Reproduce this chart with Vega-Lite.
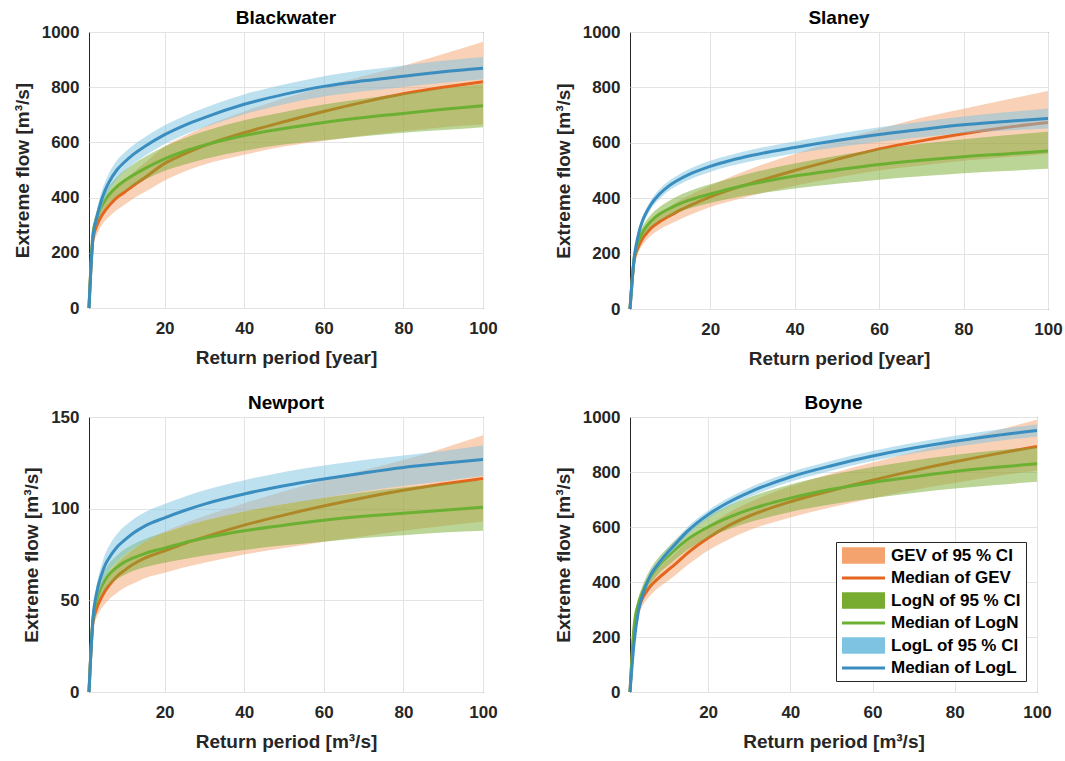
{
"$schema": "https://vega.github.io/schema/vega-lite/v6.json",
"background": "white",
"padding": {"left": 12, "top": 8, "right": 2, "bottom": 2},
"datasets": {"d": [
{"p":"Blackwater","x":1,"gl":0,"gm":0,"gh":0,"nl":0,"nm":0,"nh":0,"ll":0,"lm":0,"lh":0},
{"p":"Blackwater","x":2,"gl":225,"gm":250,"gh":280,"nl":255,"nm":270,"nh":285,"ll":240,"lm":255,"lh":270},
{"p":"Blackwater","x":3,"gl":265,"gm":300,"gh":340,"nl":305,"nm":330,"nh":355,"ll":305,"lm":330,"lh":355},
{"p":"Blackwater","x":4,"gl":295,"gm":330,"gh":375,"nl":338,"nm":365,"nh":392,"ll":355,"lm":385,"lh":415},
{"p":"Blackwater","x":5,"gl":315,"gm":352,"gh":395,"nl":360,"nm":390,"nh":420,"ll":395,"lm":425,"lh":455},
{"p":"Blackwater","x":6,"gl":330,"gm":370,"gh":410,"nl":378,"nm":410,"nh":442,"ll":423,"lm":455,"lh":487},
{"p":"Blackwater","x":8,"gl":355,"gm":400,"gh":440,"nl":405,"nm":440,"nh":475,"ll":466,"lm":500,"lh":534},
{"p":"Blackwater","x":10,"gl":375,"gm":420,"gh":465,"nl":425,"nm":462,"nh":500,"ll":496,"lm":530,"lh":564},
{"p":"Blackwater","x":12,"gl":395,"gm":442,"gh":490,"nl":442,"nm":480,"nh":520,"ll":521,"lm":555,"lh":589},
{"p":"Blackwater","x":15,"gl":420,"gm":472,"gh":525,"nl":465,"nm":505,"nh":547,"ll":551,"lm":585,"lh":619},
{"p":"Blackwater","x":20,"gl":462,"gm":524,"gh":585,"nl":497,"nm":540,"nh":585,"ll":594,"lm":628,"lh":662},
{"p":"Blackwater","x":25,"gl":495,"gm":558,"gh":623,"nl":520,"nm":568,"nh":615,"ll":628,"lm":662,"lh":696},
{"p":"Blackwater","x":30,"gl":520,"gm":588,"gh":657,"nl":540,"nm":590,"nh":640,"ll":655,"lm":690,"lh":725},
{"p":"Blackwater","x":40,"gl":555,"gm":635,"gh":712,"nl":570,"nm":625,"nh":680,"ll":702,"lm":738,"lh":774},
{"p":"Blackwater","x":50,"gl":585,"gm":675,"gh":760,"nl":592,"nm":650,"nh":710,"ll":738,"lm":774,"lh":810},
{"p":"Blackwater","x":60,"gl":605,"gm":712,"gh":802,"nl":608,"nm":672,"nh":737,"ll":766,"lm":803,"lh":840},
{"p":"Blackwater","x":70,"gl":625,"gm":746,"gh":841,"nl":622,"nm":690,"nh":758,"ll":785,"lm":823,"lh":861},
{"p":"Blackwater","x":80,"gl":640,"gm":776,"gh":878,"nl":635,"nm":705,"nh":777,"ll":801,"lm":840,"lh":879},
{"p":"Blackwater","x":90,"gl":655,"gm":800,"gh":920,"nl":645,"nm":720,"nh":795,"ll":816,"lm":856,"lh":896},
{"p":"Blackwater","x":100,"gl":665,"gm":820,"gh":965,"nl":655,"nm":733,"nh":812,"ll":829,"lm":869,"lh":909},
{"p":"Slaney","x":1,"gl":0,"gm":0,"gh":0,"nl":0,"nm":0,"nh":0,"ll":0,"lm":0,"lh":0},
{"p":"Slaney","x":2,"gl":160,"gm":175,"gh":190,"nl":170,"nm":185,"nh":200,"ll":177,"lm":185,"lh":193},
{"p":"Slaney","x":3,"gl":205,"gm":225,"gh":245,"nl":228,"nm":245,"nh":262,"ll":258,"lm":270,"lh":282},
{"p":"Slaney","x":4,"gl":232,"gm":255,"gh":280,"nl":258,"nm":278,"nh":298,"ll":306,"lm":320,"lh":334},
{"p":"Slaney","x":5,"gl":250,"gm":275,"gh":302,"nl":278,"nm":300,"nh":322,"ll":337,"lm":352,"lh":367},
{"p":"Slaney","x":6,"gl":265,"gm":292,"gh":320,"nl":295,"nm":318,"nh":341,"ll":362,"lm":378,"lh":394},
{"p":"Slaney","x":8,"gl":287,"gm":315,"gh":345,"nl":318,"nm":343,"nh":368,"ll":398,"lm":415,"lh":432},
{"p":"Slaney","x":10,"gl":303,"gm":333,"gh":365,"nl":333,"nm":360,"nh":388,"ll":424,"lm":442,"lh":460},
{"p":"Slaney","x":12,"gl":318,"gm":350,"gh":385,"nl":347,"nm":375,"nh":405,"ll":444,"lm":462,"lh":480},
{"p":"Slaney","x":15,"gl":338,"gm":372,"gh":410,"nl":363,"nm":393,"nh":425,"ll":467,"lm":486,"lh":505},
{"p":"Slaney","x":20,"gl":368,"gm":405,"gh":445,"nl":383,"nm":415,"nh":450,"ll":495,"lm":515,"lh":535},
{"p":"Slaney","x":25,"gl":390,"gm":432,"gh":478,"nl":400,"nm":435,"nh":472,"ll":517,"lm":537,"lh":557},
{"p":"Slaney","x":30,"gl":410,"gm":455,"gh":508,"nl":413,"nm":452,"nh":492,"ll":534,"lm":555,"lh":576},
{"p":"Slaney","x":40,"gl":445,"gm":500,"gh":560,"nl":435,"nm":480,"nh":525,"ll":561,"lm":583,"lh":605},
{"p":"Slaney","x":50,"gl":475,"gm":540,"gh":608,"nl":452,"nm":502,"nh":553,"ll":584,"lm":608,"lh":632},
{"p":"Slaney","x":60,"gl":500,"gm":578,"gh":650,"nl":467,"nm":522,"nh":578,"ll":604,"lm":630,"lh":656},
{"p":"Slaney","x":70,"gl":518,"gm":607,"gh":690,"nl":479,"nm":537,"nh":597,"ll":620,"lm":648,"lh":676},
{"p":"Slaney","x":80,"gl":535,"gm":633,"gh":723,"nl":490,"nm":550,"nh":613,"ll":635,"lm":665,"lh":695},
{"p":"Slaney","x":90,"gl":548,"gm":655,"gh":755,"nl":498,"nm":560,"nh":627,"ll":644,"lm":677,"lh":710},
{"p":"Slaney","x":100,"gl":560,"gm":673,"gh":787,"nl":506,"nm":570,"nh":640,"ll":652,"lm":688,"lh":724},
{"p":"Newport","x":1,"gl":0,"gm":0,"gh":0,"nl":0,"nm":0,"nh":0,"ll":0,"lm":0,"lh":0},
{"p":"Newport","x":2,"gl":34,"gm":38,"gh":42,"nl":37,"nm":40,"nh":43,"ll":38,"lm":40,"lh":42},
{"p":"Newport","x":3,"gl":41,"gm":46,"gh":51,"nl":46.5,"nm":51,"nh":55.5,"ll":50,"lm":55,"lh":59},
{"p":"Newport","x":4,"gl":45,"gm":51,"gh":57,"nl":52,"nm":57,"nh":62,"ll":57,"lm":63,"lh":68},
{"p":"Newport","x":5,"gl":48,"gm":55,"gh":61,"nl":55.5,"nm":61,"nh":66.5,"ll":62,"lm":69,"lh":75},
{"p":"Newport","x":6,"gl":50.5,"gm":58,"gh":64.5,"nl":58,"nm":64,"nh":70,"ll":66,"lm":73,"lh":79.5},
{"p":"Newport","x":8,"gl":54,"gm":63,"gh":70,"nl":61.5,"nm":68,"nh":74.5,"ll":71,"lm":79,"lh":86},
{"p":"Newport","x":10,"gl":57,"gm":66.5,"gh":74,"nl":64,"nm":71,"nh":78,"ll":75,"lm":83,"lh":90.5},
{"p":"Newport","x":12,"gl":59,"gm":69.5,"gh":77.5,"nl":66,"nm":73,"nh":80.5,"ll":78,"lm":86.5,"lh":94},
{"p":"Newport","x":15,"gl":62,"gm":73,"gh":82,"nl":68,"nm":75.5,"nh":83.5,"ll":82,"lm":90.5,"lh":98},
{"p":"Newport","x":20,"gl":65,"gm":77,"gh":87.5,"nl":70.5,"nm":78.5,"nh":87,"ll":87,"lm":95,"lh":102.5},
{"p":"Newport","x":25,"gl":68,"gm":81,"gh":92,"nl":72.5,"nm":81.5,"nh":90.5,"ll":90.5,"lm":99,"lh":106.5},
{"p":"Newport","x":30,"gl":70.5,"gm":84.5,"gh":96,"nl":74.5,"nm":84,"nh":93.5,"ll":93.5,"lm":102.5,"lh":110},
{"p":"Newport","x":40,"gl":75,"gm":91,"gh":103,"nl":77.5,"nm":88,"nh":98.5,"ll":98.5,"lm":108,"lh":115.5},
{"p":"Newport","x":50,"gl":78.5,"gm":96.5,"gh":109.5,"nl":80,"nm":91,"nh":102.5,"ll":102.5,"lm":112.5,"lh":120},
{"p":"Newport","x":60,"gl":82,"gm":101.5,"gh":115.5,"nl":82,"nm":93.7,"nh":106,"ll":106,"lm":116.2,"lh":123.5},
{"p":"Newport","x":70,"gl":85,"gm":106,"gh":121,"nl":84,"nm":95.8,"nh":109,"ll":109.5,"lm":119.5,"lh":126.5},
{"p":"Newport","x":80,"gl":88,"gm":110,"gh":126.5,"nl":85.5,"nm":97.5,"nh":111.5,"ll":112.5,"lm":122.5,"lh":129},
{"p":"Newport","x":90,"gl":90.5,"gm":113.5,"gh":133,"nl":87,"nm":99.2,"nh":113.5,"ll":115,"lm":124.8,"lh":131.5},
{"p":"Newport","x":100,"gl":93,"gm":116.5,"gh":140,"nl":88,"nm":100.8,"nh":115.5,"ll":118,"lm":126.8,"lh":134.5},
{"p":"Boyne","x":1,"gl":0,"gm":0,"gh":0,"nl":0,"nm":0,"nh":0,"ll":0,"lm":0,"lh":0},
{"p":"Boyne","x":2,"gl":205,"gm":220,"gh":235,"nl":225,"nm":240,"nh":255,"ll":170,"lm":180,"lh":190},
{"p":"Boyne","x":3,"gl":275,"gm":300,"gh":325,"nl":300,"nm":320,"nh":340,"ll":278,"lm":290,"lh":302},
{"p":"Boyne","x":4,"gl":312,"gm":340,"gh":368,"nl":340,"nm":362,"nh":385,"ll":338,"lm":350,"lh":362},
{"p":"Boyne","x":5,"gl":335,"gm":365,"gh":395,"nl":370,"nm":395,"nh":420,"ll":380,"lm":392,"lh":404},
{"p":"Boyne","x":6,"gl":352,"gm":385,"gh":418,"nl":393,"nm":420,"nh":448,"ll":412,"lm":425,"lh":438},
{"p":"Boyne","x":8,"gl":380,"gm":415,"gh":450,"nl":430,"nm":460,"nh":490,"ll":455,"lm":468,"lh":481},
{"p":"Boyne","x":10,"gl":402,"gm":440,"gh":478,"nl":457,"nm":490,"nh":523,"ll":492,"lm":505,"lh":518},
{"p":"Boyne","x":12,"gl":425,"gm":465,"gh":505,"nl":482,"nm":518,"nh":553,"ll":523,"lm":537,"lh":551},
{"p":"Boyne","x":15,"gl":462,"gm":505,"gh":548,"nl":517,"nm":555,"nh":592,"ll":570,"lm":585,"lh":600},
{"p":"Boyne","x":20,"gl":515,"gm":560,"gh":605,"nl":560,"nm":600,"nh":640,"ll":630,"lm":645,"lh":660},
{"p":"Boyne","x":25,"gl":555,"gm":605,"gh":652,"nl":592,"nm":635,"nh":678,"ll":674,"lm":690,"lh":706},
{"p":"Boyne","x":30,"gl":588,"gm":640,"gh":690,"nl":617,"nm":663,"nh":708,"ll":709,"lm":726,"lh":743},
{"p":"Boyne","x":40,"gl":635,"gm":692,"gh":748,"nl":655,"nm":705,"nh":755,"ll":765,"lm":782,"lh":799},
{"p":"Boyne","x":50,"gl":672,"gm":733,"gh":795,"nl":683,"nm":737,"nh":790,"ll":805,"lm":823,"lh":841},
{"p":"Boyne","x":60,"gl":705,"gm":770,"gh":835,"nl":705,"nm":762,"nh":818,"ll":840,"lm":858,"lh":876},
{"p":"Boyne","x":70,"gl":735,"gm":805,"gh":873,"nl":724,"nm":783,"nh":842,"ll":868,"lm":887,"lh":906},
{"p":"Boyne","x":80,"gl":760,"gm":837,"gh":910,"nl":740,"nm":802,"nh":862,"ll":892,"lm":912,"lh":932},
{"p":"Boyne","x":90,"gl":785,"gm":866,"gh":950,"nl":753,"nm":817,"nh":878,"ll":912,"lm":933,"lh":954},
{"p":"Boyne","x":100,"gl":805,"gm":893,"gh":990,"nl":765,"nm":830,"nh":892,"ll":929,"lm":951,"lh":973}
]},
"data": {"name": "d"},
"columns": 2,
"align": "each",
"bounds": "flush",
"spacing": {"row": 108, "column": 147},
"resolve": {"scale": {"color": "independent"}, "legend": {"color": "independent"}},
"concat": [
{
"title": "Blackwater", "width": 394, "height": 276,
"transform": [{"filter": "datum.p == 'Blackwater'"}],
"encoding": {"x": {"field": "x", "type": "quantitative", "scale": {"domain": [1, 100], "nice": false}, "axis": {"values": [20, 40, 60, 80, 100]}, "title": "Return period [year]"}},
"layer": [
{"mark": {"type": "area", "interpolate": "monotone", "color": "#F4A36F", "fillOpacity": 0.5}, "encoding": {"y": {"field": "gl", "type": "quantitative", "scale": {"domain": [0, 1000], "nice": false}, "axis": {"values": [0, 200, 400, 600, 800, 1000], "format": "d"}, "title": "Extreme flow [m³/s]"}, "y2": {"field": "gh"}}},
{"mark": {"type": "line", "interpolate": "monotone", "color": "#E5651F", "strokeWidth": 3}, "encoding": {"y": {"field": "gm", "type": "quantitative", "scale": {"domain": [0, 1000], "nice": false}, "axis": {"values": [0, 200, 400, 600, 800, 1000], "format": "d"}, "title": "Extreme flow [m³/s]"}}},
{"mark": {"type": "area", "interpolate": "monotone", "color": "#77AC30", "fillOpacity": 0.5}, "encoding": {"y": {"field": "nl", "type": "quantitative", "scale": {"domain": [0, 1000], "nice": false}, "axis": {"values": [0, 200, 400, 600, 800, 1000], "format": "d"}, "title": "Extreme flow [m³/s]"}, "y2": {"field": "nh"}}},
{"mark": {"type": "line", "interpolate": "monotone", "color": "#6CB033", "strokeWidth": 3}, "encoding": {"y": {"field": "nm", "type": "quantitative", "scale": {"domain": [0, 1000], "nice": false}, "axis": {"values": [0, 200, 400, 600, 800, 1000], "format": "d"}, "title": "Extreme flow [m³/s]"}}},
{"mark": {"type": "area", "interpolate": "monotone", "color": "#7EC4E2", "fillOpacity": 0.5}, "encoding": {"y": {"field": "ll", "type": "quantitative", "scale": {"domain": [0, 1000], "nice": false}, "axis": {"values": [0, 200, 400, 600, 800, 1000], "format": "d"}, "title": "Extreme flow [m³/s]"}, "y2": {"field": "lh"}}},
{"mark": {"type": "line", "interpolate": "monotone", "color": "#3A8DBF", "strokeWidth": 3}, "encoding": {"y": {"field": "lm", "type": "quantitative", "scale": {"domain": [0, 1000], "nice": false}, "axis": {"values": [0, 200, 400, 600, 800, 1000], "format": "d"}, "title": "Extreme flow [m³/s]"}}}
]
},
{
"title": "Slaney", "width": 418, "height": 277,
"transform": [{"filter": "datum.p == 'Slaney'"}],
"encoding": {"x": {"field": "x", "type": "quantitative", "scale": {"domain": [1, 100], "nice": false}, "axis": {"values": [20, 40, 60, 80, 100]}, "title": "Return period [year]"}},
"layer": [
{"mark": {"type": "area", "interpolate": "monotone", "color": "#F4A36F", "fillOpacity": 0.5}, "encoding": {"y": {"field": "gl", "type": "quantitative", "scale": {"domain": [0, 1000], "nice": false}, "axis": {"values": [0, 200, 400, 600, 800, 1000], "format": "d"}, "title": "Extreme flow [m³/s]"}, "y2": {"field": "gh"}}},
{"mark": {"type": "line", "interpolate": "monotone", "color": "#E5651F", "strokeWidth": 3}, "encoding": {"y": {"field": "gm", "type": "quantitative", "scale": {"domain": [0, 1000], "nice": false}, "axis": {"values": [0, 200, 400, 600, 800, 1000], "format": "d"}, "title": "Extreme flow [m³/s]"}}},
{"mark": {"type": "area", "interpolate": "monotone", "color": "#77AC30", "fillOpacity": 0.5}, "encoding": {"y": {"field": "nl", "type": "quantitative", "scale": {"domain": [0, 1000], "nice": false}, "axis": {"values": [0, 200, 400, 600, 800, 1000], "format": "d"}, "title": "Extreme flow [m³/s]"}, "y2": {"field": "nh"}}},
{"mark": {"type": "line", "interpolate": "monotone", "color": "#6CB033", "strokeWidth": 3}, "encoding": {"y": {"field": "nm", "type": "quantitative", "scale": {"domain": [0, 1000], "nice": false}, "axis": {"values": [0, 200, 400, 600, 800, 1000], "format": "d"}, "title": "Extreme flow [m³/s]"}}},
{"mark": {"type": "area", "interpolate": "monotone", "color": "#7EC4E2", "fillOpacity": 0.5}, "encoding": {"y": {"field": "ll", "type": "quantitative", "scale": {"domain": [0, 1000], "nice": false}, "axis": {"values": [0, 200, 400, 600, 800, 1000], "format": "d"}, "title": "Extreme flow [m³/s]"}, "y2": {"field": "lh"}}},
{"mark": {"type": "line", "interpolate": "monotone", "color": "#3A8DBF", "strokeWidth": 3}, "encoding": {"y": {"field": "lm", "type": "quantitative", "scale": {"domain": [0, 1000], "nice": false}, "axis": {"values": [0, 200, 400, 600, 800, 1000], "format": "d"}, "title": "Extreme flow [m³/s]"}}}
]
},
{
"title": "Newport", "width": 394, "height": 275,
"transform": [{"filter": "datum.p == 'Newport'"}],
"encoding": {"x": {"field": "x", "type": "quantitative", "scale": {"domain": [1, 100], "nice": false}, "axis": {"values": [20, 40, 60, 80, 100]}, "title": "Return period [m³/s]"}},
"layer": [
{"mark": {"type": "area", "interpolate": "monotone", "color": "#F4A36F", "fillOpacity": 0.5}, "encoding": {"y": {"field": "gl", "type": "quantitative", "scale": {"domain": [0, 150], "nice": false}, "axis": {"values": [0, 50, 100, 150], "format": "d"}, "title": "Extreme flow [m³/s]"}, "y2": {"field": "gh"}}},
{"mark": {"type": "line", "interpolate": "monotone", "color": "#E5651F", "strokeWidth": 3}, "encoding": {"y": {"field": "gm", "type": "quantitative", "scale": {"domain": [0, 150], "nice": false}, "axis": {"values": [0, 50, 100, 150], "format": "d"}, "title": "Extreme flow [m³/s]"}}},
{"mark": {"type": "area", "interpolate": "monotone", "color": "#77AC30", "fillOpacity": 0.5}, "encoding": {"y": {"field": "nl", "type": "quantitative", "scale": {"domain": [0, 150], "nice": false}, "axis": {"values": [0, 50, 100, 150], "format": "d"}, "title": "Extreme flow [m³/s]"}, "y2": {"field": "nh"}}},
{"mark": {"type": "line", "interpolate": "monotone", "color": "#6CB033", "strokeWidth": 3}, "encoding": {"y": {"field": "nm", "type": "quantitative", "scale": {"domain": [0, 150], "nice": false}, "axis": {"values": [0, 50, 100, 150], "format": "d"}, "title": "Extreme flow [m³/s]"}}},
{"mark": {"type": "area", "interpolate": "monotone", "color": "#7EC4E2", "fillOpacity": 0.5}, "encoding": {"y": {"field": "ll", "type": "quantitative", "scale": {"domain": [0, 150], "nice": false}, "axis": {"values": [0, 50, 100, 150], "format": "d"}, "title": "Extreme flow [m³/s]"}, "y2": {"field": "lh"}}},
{"mark": {"type": "line", "interpolate": "monotone", "color": "#3A8DBF", "strokeWidth": 3}, "encoding": {"y": {"field": "lm", "type": "quantitative", "scale": {"domain": [0, 150], "nice": false}, "axis": {"values": [0, 50, 100, 150], "format": "d"}, "title": "Extreme flow [m³/s]"}}}
]
},
{
"title": "Boyne", "width": 407, "height": 275,
"transform": [{"filter": "datum.p == 'Boyne'"}],
"encoding": {"x": {"field": "x", "type": "quantitative", "scale": {"domain": [1, 100], "nice": false}, "axis": {"values": [20, 40, 60, 80, 100]}, "title": "Return period [m³/s]"}},
"layer": [
{"mark": {"type": "area", "interpolate": "monotone", "fillOpacity": 0.5}, "encoding": {"y": {"field": "gl", "type": "quantitative", "scale": {"domain": [0, 1000], "nice": false}, "axis": {"values": [0, 200, 400, 600, 800, 1000], "format": "d"}, "title": "Extreme flow [m³/s]"}, "y2": {"field": "gh"},
 "color": {"datum": "GEV of 95 % CI", "type": "nominal", "scale": {"domain": ["GEV of 95 % CI", "Median of GEV", "LogN of 95 % CI", "Median of LogN", "LogL of 95 % CI", "Median of LogL"], "range": ["#F4A36F", "#E5651F", "#77AC30", "#6CB033", "#7EC4E2", "#3A8DBF"]},
  "legend": {"orient": "bottom-right", "offset": 11, "title": null, "padding": 5, "strokeColor": "#262626", "fillColor": "white", "cornerRadius": 0, "labelFontSize": 17, "labelFontWeight": "bold", "labelColor": "#000", "labelLimit": 300, "symbolSize": 225, "labelOffset": 33, "rowPadding": 4.5,
   "encode": {"symbols": {"update": {
     "shape": {"signal": "datum.index % 2 == 0 ? 'M-1,-1.1H4.73V1.1H-1Z' : 'M-1,0H4.73'"},
     "fill": {"signal": "['#F4A97A','transparent','#77AC30','transparent','#7EC4E2','transparent'][datum.index]"},
     "stroke": {"signal": "['#F4A97A','#E5651F','#77AC30','#6CB033','#7EC4E2','#3A8DBF'][datum.index]"},
     "strokeWidth": {"signal": "datum.index % 2 == 0 ? 0 : 3"},
     "opacity": {"value": 1}, "fillOpacity": {"value": 1}, "strokeOpacity": {"value": 1}}}}}}}},
{"mark": {"type": "line", "interpolate": "monotone", "strokeWidth": 3}, "encoding": {"y": {"field": "gm", "type": "quantitative", "scale": {"domain": [0, 1000], "nice": false}, "axis": {"values": [0, 200, 400, 600, 800, 1000], "format": "d"}, "title": "Extreme flow [m³/s]"},
 "color": {"datum": "Median of GEV", "type": "nominal"}}},
{"mark": {"type": "area", "interpolate": "monotone", "fillOpacity": 0.5}, "encoding": {"y": {"field": "nl", "type": "quantitative", "scale": {"domain": [0, 1000], "nice": false}, "axis": {"values": [0, 200, 400, 600, 800, 1000], "format": "d"}, "title": "Extreme flow [m³/s]"}, "y2": {"field": "nh"},
 "color": {"datum": "LogN of 95 % CI", "type": "nominal"}}},
{"mark": {"type": "line", "interpolate": "monotone", "strokeWidth": 3}, "encoding": {"y": {"field": "nm", "type": "quantitative", "scale": {"domain": [0, 1000], "nice": false}, "axis": {"values": [0, 200, 400, 600, 800, 1000], "format": "d"}, "title": "Extreme flow [m³/s]"},
 "color": {"datum": "Median of LogN", "type": "nominal"}}},
{"mark": {"type": "area", "interpolate": "monotone", "fillOpacity": 0.5}, "encoding": {"y": {"field": "ll", "type": "quantitative", "scale": {"domain": [0, 1000], "nice": false}, "axis": {"values": [0, 200, 400, 600, 800, 1000], "format": "d"}, "title": "Extreme flow [m³/s]"}, "y2": {"field": "lh"},
 "color": {"datum": "LogL of 95 % CI", "type": "nominal"}}},
{"mark": {"type": "line", "interpolate": "monotone", "strokeWidth": 3}, "encoding": {"y": {"field": "lm", "type": "quantitative", "scale": {"domain": [0, 1000], "nice": false}, "axis": {"values": [0, 200, 400, 600, 800, 1000], "format": "d"}, "title": "Extreme flow [m³/s]"},
 "color": {"datum": "Median of LogL", "type": "nominal"}}}
]
}
],
"config": {
 "font": "Liberation Sans",
 "view": {"stroke": "#262626", "strokeWidth": 1},
 "axis": {"labelFontSize": 17, "labelFontWeight": "bold", "labelColor": "#262626", "titleFontSize": 19, "titleFontWeight": "bold", "titleColor": "#262626", "gridColor": "#e3e3e3", "gridWidth": 1, "domain": false, "ticks": false, "labelFlush": false},
 "axisX": {"labelPadding": 12, "titlePadding": 12},
 "axisY": {"labelPadding": 10, "titlePadding": 9},
 "title": {"fontSize": 19, "fontWeight": "bold", "color": "#000", "offset": -5}
}
}
